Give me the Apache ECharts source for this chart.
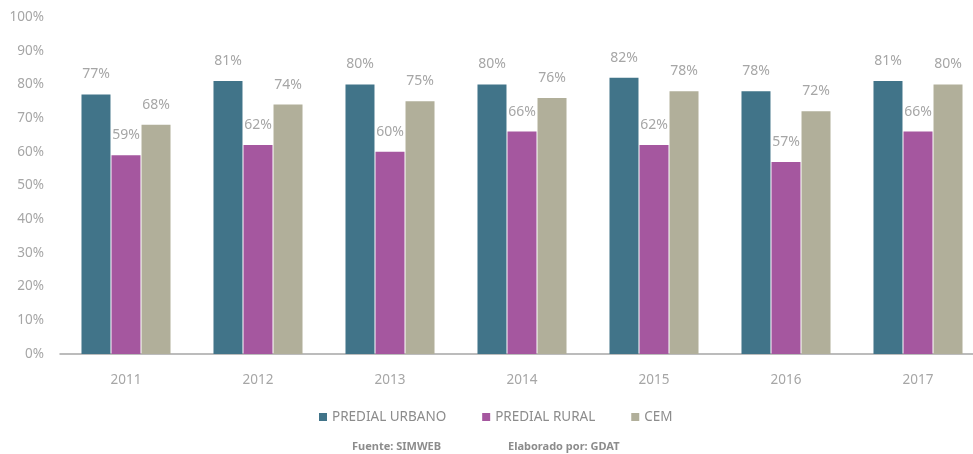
<!DOCTYPE html>
<html>
<head>
<meta charset="utf-8">
<script src="https://cdn.jsdelivr.net/npm/echarts@6/dist/echarts.min.js"></script>
<style>
  html, body { margin: 0; padding: 0; background: #fff; }
  #chart { width: 973px; height: 454px; }
</style>
</head>
<body>
<div id="chart"></div>
<script>
  // datos
  var years = ['2011', '2012', '2013', '2014', '2015', '2016', '2017']
  var predialUrbano = [77, 81, 80, 80, 82, 78, 81]
  var predialRural = [59, 62, 60, 66, 62, 57, 66]
  var cem = [68, 74, 75, 76, 78, 72, 80]
  var yTicks = [0, 10, 20, 30, 40, 50, 60, 70, 80, 90, 100]

  var grey = '#a6a6a6'
  var font = 'Noto Sans'

  function barSeries(name, data, color) {
    return {
      name: name,
      type: 'bar',
      data: data,
      barWidth: 29,
      barGap: '3.5%',
      itemStyle: { color: color },
      label: {
        show: true,
        position: 'top',
        distance: 13,
        formatter: '{c}%',
        color: grey,
        fontSize: 14,
        fontFamily: font
      }
    }
  }

  var chart = echarts.init(document.getElementById('chart'))
  chart.setOption({
    animation: false,
    grid: {
      left: 60,
      top: 17,
      width: 924,
      height: 337,
      outerBoundsMode: 'none'
    },
    legend: {
      bottom: 25,
      left: 314,
      itemWidth: 8,
      itemHeight: 8,
      itemGap: 36,
      icon: 'rect',
      textStyle: { color: '#8c8c8c', fontSize: 13.5, fontFamily: font }
    },
    xAxis: {
      type: 'category',
      data: years,
      axisLine: { lineStyle: { color: '#a6a6a6', width: 1.5 } },
      axisTick: { show: false },
      axisLabel: { color: grey, fontSize: 13.5, fontFamily: font, margin: 19 }
    },
    yAxis: {
      type: 'value',
      min: yTicks[0],
      max: yTicks[yTicks.length - 1],
      interval: 10,
      splitLine: { show: false },
      axisLine: { show: false },
      axisTick: { show: false },
      axisLabel: { color: grey, fontSize: 13.5, fontFamily: font, margin: 16, formatter: '{value}%' }
    },
    graphic: [
      {
        type: 'text',
        left: 352,
        top: 441,
        style: { text: 'Fuente: SIMWEB', fill: '#8c8c8c', font: 'bold 11px "Noto Sans"' }
      },
      {
        type: 'text',
        left: 508,
        top: 441,
        style: { text: 'Elaborado por: GDAT', fill: '#8c8c8c', font: 'bold 11px "Noto Sans"' }
      }
    ],
    series: [
      barSeries('PREDIAL URBANO', predialUrbano, '#417489'),
      barSeries('PREDIAL RURAL', predialRural, '#a5579f'),
      barSeries('CEM', cem, '#b1af9a')
    ]
  })
</script>
</body>
</html>
